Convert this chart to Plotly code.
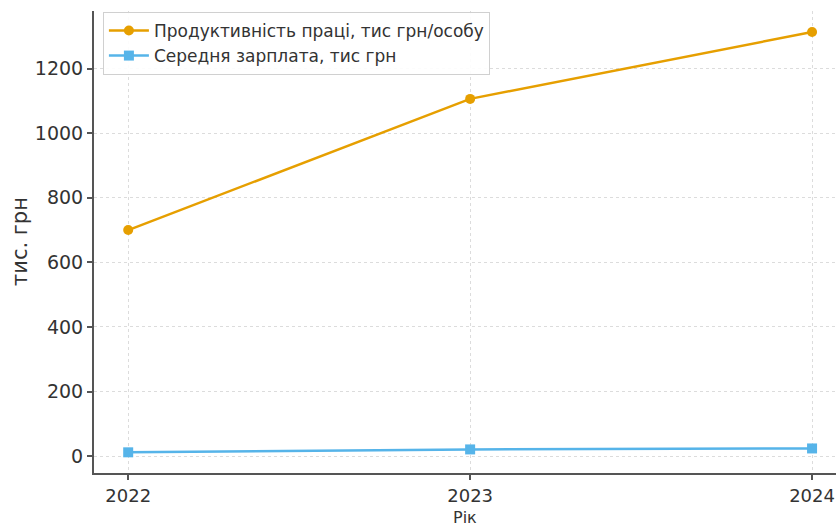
import plotly.graph_objects as go

years = [2022, 2023, 2024]
productivity = [700, 1106, 1313]
avg_salary = [12, 21, 24]
series_names = ["Продуктивність праці, тис грн/особу", "Середня зарплата, тис грн"]
y_ticks = [0, 200, 400, 600, 800, 1000, 1200]
x_title = "Рік"
y_title = "тис. грн"

fig = go.Figure()
fig.add_trace(go.Scatter(
    x=years, y=productivity, mode="lines+markers", name=series_names[0],
    line=dict(color="#E69F00", width=2.5),
    marker=dict(symbol="circle", size=10, color="#E69F00"),
))
fig.add_trace(go.Scatter(
    x=years, y=avg_salary, mode="lines+markers", name=series_names[1],
    line=dict(color="#56B4E9", width=2.5),
    marker=dict(symbol="square", size=10, color="#56B4E9"),
))

font_family = "DejaVu Sans, sans-serif"
fig.update_layout(
    width=836, height=529,
    margin=dict(l=94, r=0, t=11, b=56),
    paper_bgcolor="white", plot_bgcolor="white",
    font=dict(family=font_family, color="#333", size=17),
    showlegend=True,
    legend=dict(
        x=0.012, y=0.998, xanchor="left", yanchor="top",
        bgcolor="rgba(255,255,255,0.9)", bordercolor="#d0d0d0", borderwidth=1,
        font=dict(size=17, color="#333"),
        itemwidth=40, tracegroupgap=0,
    ),
    xaxis=dict(
        range=[2021.9, 2024.07], tickvals=years, ticktext=[str(y) for y in years],
        automargin=False, ticklabeloverflow="allow",
        showline=True, linecolor="#555", linewidth=2, mirror=False,
        ticks="outside", ticklen=5, tickcolor="#555", tickwidth=1.5,
        showgrid=True, gridcolor="#dcdcdc", griddash="dot", gridwidth=1,
        zeroline=False, tickfont=dict(size=18, color="#333"),
    ),
    yaxis=dict(
        range=[-52, 1378], tickvals=y_ticks,
        automargin=False,
        showline=True, linecolor="#555", linewidth=2, mirror=False,
        ticks="outside", ticklen=5, tickcolor="#555", tickwidth=1.5,
        showgrid=True, gridcolor="#dcdcdc", griddash="dot", gridwidth=1,
        zeroline=False, tickfont=dict(size=19, color="#333"),
    ),
    annotations=[
        dict(text=x_title, xref="paper", yref="paper", x=0.5, y=0,
             xanchor="center", yanchor="bottom", yshift=-56, showarrow=False,
             font=dict(size=16, color="#333")),
        dict(text=y_title, xref="paper", yref="paper", x=0, y=0.5,
             xanchor="center", yanchor="middle", xshift=-74, textangle=-90,
             showarrow=False, font=dict(size=21, color="#333")),
    ],
)

fig.write_html("out.html")
